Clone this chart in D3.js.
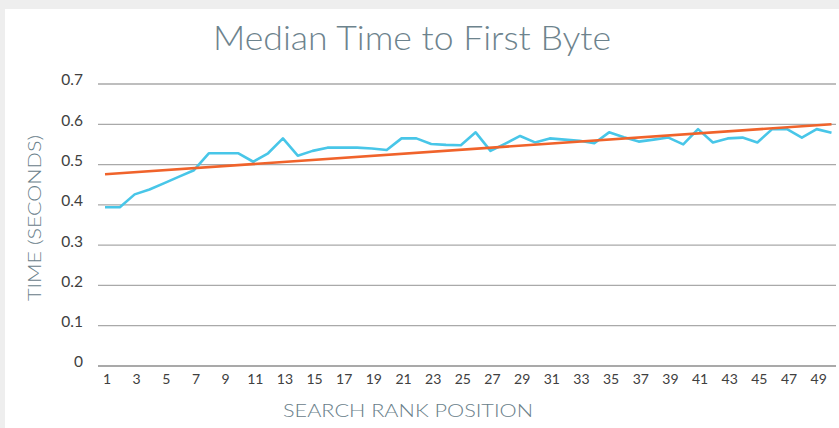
<!DOCTYPE html>
<html>
<head>
  <title>Median Time to First Byte</title>
  <script src="https://d3js.org/d3.v7.min.js"></script>
  <style>
    body {
      margin: 0;
      background: #eeeeee;
      font-family: Lato, "Open Sans", sans-serif;
    }
    #chart {
      width: 839px;
      height: 428px;
    }
    .grid line {
      stroke: #a9a9a9;
      stroke-width: 1.3px;
    }
    .tick-label {
      fill: #404040;
      font-size: 15.5px;
    }
    .axis-title {
      fill: #6a808a;
      font-size: 18px;
      font-weight: 300;
    }
  </style>
</head>
<body>
  <div id="chart"></div>

  <script>
    // rank positions 1..50
    const ranks = d3.range(1, 51);
    // median TTFB (seconds) per rank
    const medianTTFB = [
      0.394, 0.394, 0.426, 0.438, 0.454, 0.470, 0.486, 0.528, 0.528, 0.528,
      0.507, 0.528, 0.565, 0.522, 0.534, 0.542, 0.542, 0.542, 0.540, 0.536,
      0.565, 0.565, 0.551, 0.549, 0.548, 0.580, 0.534, 0.552, 0.571, 0.555,
      0.565, 0.562, 0.559, 0.553, 0.580, 0.568, 0.557, 0.562, 0.567, 0.550,
      0.588, 0.555, 0.565, 0.567, 0.555, 0.588, 0.588, 0.567, 0.588, 0.579
    ];
    // linear trend line, value at rank 1 and rank 50
    const trendEnds = [0.476, 0.600];
    const yTicks = [0, 0.1, 0.2, 0.3, 0.4, 0.5, 0.6, 0.7];
    const xTickLabels = ranks.filter(r => r % 2 === 1);

    const width = 839, height = 428;
    const plot = { left: 98, right: 836, top: 84, bottom: 366 };

    const svg = d3.select('#chart')
      .append('svg')
      .attr('width', width)
      .attr('height', height);

    // white panel (grey strip shows at top/left like the original export)
    svg.append('rect')
      .attr('x', 5).attr('y', 9)
      .attr('width', width - 5).attr('height', height - 9)
      .attr('fill', '#ffffff');

    const x = d3.scalePoint()
      .domain(ranks)
      .range([plot.left + 7, plot.right - 4.5]);

    const y = d3.scaleLinear()
      .domain([0, 0.7])
      .range([plot.bottom, plot.top]);

    // gridlines
    svg.append('g')
      .attr('class', 'grid')
      .selectAll('line')
      .data(yTicks)
      .join('line')
      .attr('x1', plot.left)
      .attr('x2', plot.right)
      .attr('y1', d => y(d))
      .attr('y2', d => y(d))
      .style('stroke', d => d === 0 ? '#8c8c8c' : null);

    // y tick labels (sit a little above their gridline)
    svg.append('g')
      .selectAll('text')
      .data(yTicks)
      .join('text')
      .attr('class', 'tick-label')
      .attr('x', 83)
      .attr('y', d => y(d) - 4)
      .attr('dy', '0.35em')
      .attr('text-anchor', 'end')
      .text(d => d === 0 ? '0' : d3.format('.1f')(d));

    // x tick labels
    svg.append('g')
      .selectAll('text')
      .data(xTickLabels)
      .join('text')
      .attr('class', 'tick-label')
      .attr('x', d => x(d) + 2)
      .attr('y', plot.bottom + 13)
      .attr('dy', '0.35em')
      .attr('text-anchor', 'middle')
      .style('font-size', '14px')
      .text(d => d);

    // median line
    const line = d3.line()
      .x((d, i) => x(ranks[i]))
      .y(d => y(d));

    svg.append('path')
      .datum(medianTTFB)
      .attr('fill', 'none')
      .attr('stroke', '#48c6e8')
      .attr('stroke-width', 2.6)
      .attr('stroke-linejoin', 'round')
      .attr('d', line);

    // trend line
    svg.append('line')
      .attr('x1', x(ranks[0]))
      .attr('x2', x(ranks[ranks.length - 1]))
      .attr('y1', y(trendEnds[0]))
      .attr('y2', y(trendEnds[1]))
      .attr('stroke', '#f0632b')
      .attr('stroke-width', 2.6);

    // titles
    svg.append('text')
      .attr('x', 412)
      .attr('y', 50)
      .attr('text-anchor', 'middle')
      .attr('fill', '#6d838d')
      .style('font-size', '34px')
      .style('font-weight', 300)
      .attr('textLength', 398)
      .attr('lengthAdjust', 'spacingAndGlyphs')
      .text('Median Time to First Byte');

    svg.append('text')
      .attr('class', 'axis-title')
      .attr('x', 408)
      .attr('y', 417)
      .attr('text-anchor', 'middle')
      .attr('textLength', 250)
      .attr('lengthAdjust', 'spacingAndGlyphs')
      .text('SEARCH RANK POSITION');

    svg.append('text')
      .attr('class', 'axis-title')
      .attr('transform', 'translate(41,218) rotate(-90)')
      .attr('text-anchor', 'middle')
      .attr('textLength', 166)
      .attr('lengthAdjust', 'spacingAndGlyphs')
      .text('TIME (SECONDS)');
  </script>
</body>
</html>
